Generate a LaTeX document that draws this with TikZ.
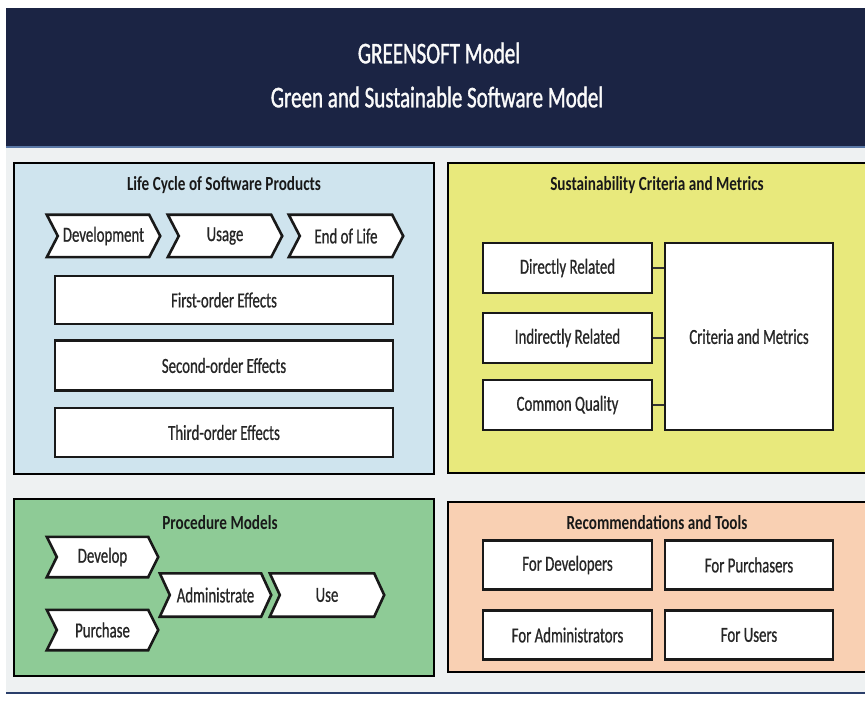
\documentclass[tikz,border=0pt]{standalone}
\usepackage{fontspec}
\setmainfont{Carlito}[FakeStretch=0.76]
\newfontfamily\boxfont{Carlito}[FakeStretch=0.69, FakeBold=0.7]
\newfontfamily\headfont{Carlito}[FakeStretch=0.7, FakeBold=1.2]
\usetikzlibrary{calc}
\pgfdeclarelayer{base}
\pgfdeclarelayer{panels}
\pgfdeclarelayer{shapes}
\pgfsetlayers{base,panels,shapes,main}

\definecolor{navy}{HTML}{1B2444}
\definecolor{pagebg}{HTML}{EEF1F2}
\definecolor{lifeblue}{HTML}{CFE4EE}
\definecolor{crityellow}{HTML}{E8E97C}
\definecolor{procgreen}{HTML}{8ECB96}
\definecolor{recpeach}{HTML}{F9D0B3}
\definecolor{rulelight}{HTML}{5A78A6}
\definecolor{ruledark}{HTML}{2A3E6A}

\tikzset{
  x=1pt, y=-1pt,
  panel/.style={draw=black, line width=2.6pt},
  ptitle/.style={font=\fontsize{20}{22}\selectfont\bfseries, text=black!90, inner sep=0},
  box/.style={draw=black!90, line width=2.6pt, fill=white, inner sep=0,
    font=\boxfont\fontsize{21.5}{23}\selectfont, text=black!85},
  chevtext/.style={inner sep=0, font=\boxfont\fontsize{21.5}{23}\selectfont, text=black!85},
  chevline/.style={draw=black!90, line width=2.6pt, fill=white, line join=miter},
  link/.style={draw=black!80, line width=1.4pt},
  headtext/.style={text=white!96!gray, font=\headfont\fontsize{30}{32}\selectfont, inner sep=0},
}

% chevron drawn around a named (invisible) node: #1 name, #2 notch/tip depth
\newcommand\chevronpath[2]{%
  \begin{pgfonlayer}{shapes}
    \draw[chevline] (#1.north west) -- ([xshift=-#2]#1.north east) -- (#1.east)
      -- ([xshift=-#2]#1.south east) -- (#1.south west) -- ([xshift=#2]#1.west) -- cycle;
  \end{pgfonlayer}}

\begin{document}
\begin{tikzpicture}
\useasboundingbox (0,0) rectangle (865,708);

% page background and header
\begin{pgfonlayer}{base}
  \fill[white] (0,0) rectangle (865,708);
  \fill[pagebg] (6,147) rectangle (865,692);
  \fill[navy] (6,8) rectangle (865,147);
  \draw[rulelight, line width=1.5pt] (6,147) -- (865,147);
  \draw[ruledark, line width=2.5pt] (6,693) -- (865,693);
\end{pgfonlayer}
\node[headtext] (title1) at (439,53) {GREENSOFT Model};
\node[headtext] (title2) at (437,97) {Green and Sustainable Software Model};

% ---------- panels ----------
\begin{pgfonlayer}{panels}
  \draw[panel, fill=lifeblue]   (14,163) rectangle (434,474);
  \draw[panel, fill=crityellow] (448,163) rectangle (880,473);
  \draw[panel, fill=procgreen]  (14,499) rectangle (434,676);
  \draw[panel, fill=recpeach]   (448,502) rectangle (880,672);
\end{pgfonlayer}

% ---------- life cycle ----------
\node[ptitle] (lctitle) at (224,185) {Life Cycle of Software Products};
\node[chevtext, minimum width=113, minimum height=42] (dev) at (103.5,236) {Development};
\chevronpath{dev}{11}
\node[chevtext, minimum width=114, minimum height=42] (usage) at (225,236) {Usage};
\chevronpath{usage}{11}
\node[chevtext, minimum width=114, minimum height=42] (eol) at (346,236) {End of Life};
\chevronpath{eol}{11}

\node[box, minimum width=338, minimum height=48] (first)  at (224,300) {First-order Effects};
\node[box, minimum width=338, minimum height=50] (second) at (224,365.5) {Second-order Effects};
\node[box, minimum width=338, minimum height=49] (third)  at (224,432.5) {Third-order Effects};

% ---------- criteria and metrics ----------
\node[ptitle] (crtitle) at (657,185) {Sustainability Criteria and Metrics};
\node[box, minimum width=169, minimum height=50] (direct)   at (567.5,268) {Directly Related};
\node[box, minimum width=169, minimum height=50] (indirect) at (567.5,338) {Indirectly Related};
\node[box, minimum width=169, minimum height=50] (common)   at (567.5,405) {Common Quality};
\node[box, minimum width=168, minimum height=187] (crit)    at (749,336.5) {Criteria and Metrics};
\draw[link] (direct.east)   -- (direct.east -| crit.west);
\draw[link] (indirect.east) -- (indirect.east -| crit.west);
\draw[link] (common.east)   -- (common.east -| crit.west);

% ---------- procedure models ----------
\node[ptitle] (pmtitle) at (220,523) {Procedure Models};
\node[chevtext, minimum width=111, minimum height=40] (develop)  at (102.5,557) {Develop};
\chevronpath{develop}{10}
\node[chevtext, minimum width=111, minimum height=40] (purchase) at (102.5,630) {Purchase};
\chevronpath{purchase}{10}
\node[chevtext, minimum width=111, minimum height=43] (admin)    at (215.5,595) {Administrate};
\chevronpath{admin}{10}
\node[chevtext, minimum width=114, minimum height=43] (use)      at (327,595) {Use};
\chevronpath{use}{10}

% ---------- recommendations and tools ----------
\node[ptitle] (rttitle) at (657,523) {Recommendations and Tools};
\node[box, minimum width=169, minimum height=49] (fordev)   at (567.5,565) {For Developers};
\node[box, minimum width=168, minimum height=49] (forpur)   at (749,565) {For Purchasers};
\node[box, minimum width=169, minimum height=49] (foradmin) at (567.5,635) {For Administrators};
\node[box, minimum width=168, minimum height=49] (foruser)  at (749,635) {For Users};
\end{tikzpicture}
\end{document}
